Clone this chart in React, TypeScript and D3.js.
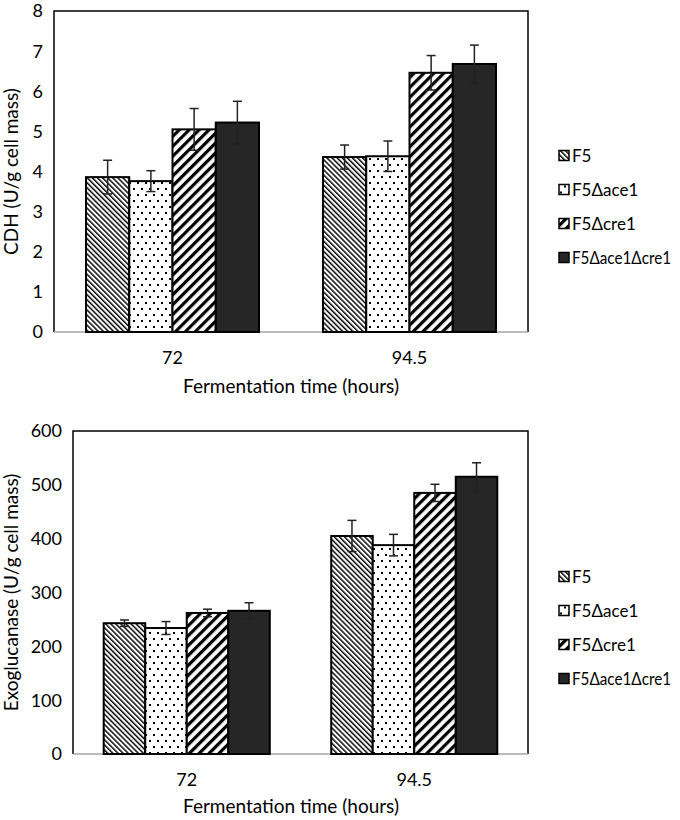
import React from 'react';
import * as d3 from 'd3';

const times = ['72', '94.5'];
const strains = ['F5', 'F5Δace1', 'F5Δcre1', 'F5Δace1Δcre1'];

// CDH (U/g cell mass), rows = strains, cols = times
const cdhMean = [
  [3.86, 4.36],
  [3.76, 4.38],
  [5.05, 6.46],
  [5.22, 6.68],
];
const cdhErr = [
  [0.42, 0.30],
  [0.26, 0.38],
  [0.52, 0.43],
  [0.53, 0.47],
];
const cdhTicks = [0, 1, 2, 3, 4, 5, 6, 7, 8];

// Exoglucanase (U/g cell mass)
const exoMean = [
  [243, 405],
  [234, 388],
  [262, 485],
  [266, 515],
];
const exoErr = [
  [6, 29],
  [12, 20],
  [7, 16],
  [15, 26],
];
const exoTicks = [0, 100, 200, 300, 400, 500, 600];

const fills = ['url(#pF5)', 'url(#pAce)', 'url(#pCre)', '#262626'];
const font = 'Lato, "Open Sans", sans-serif';

type PanelProps = {
  top: number;
  left: number;
  bottom: number;
  yMax: number;
  ticks: number[];
  mean: number[][];
  err: number[][];
  yTitle: string;
  titleY: number;
};

function Panel({ top, left, bottom, yMax, ticks, mean, err, yTitle, titleY }: PanelProps) {
  const right = 528;
  const x0 = d3.scaleBand().domain(times).range([left, right]).paddingInner(0).paddingOuter(0);
  const groupW = x0.bandwidth() * 0.73;
  const x1 = d3.scaleBand().domain(strains).range([0, groupW]);
  const y = d3.scaleLinear().domain([0, yMax]).range([bottom, top]);

  const legendY = d3.scaleLinear().domain([0, 3]).range([(top + bottom) / 2 - 16, (top + bottom) / 2 + 86]);

  return (
    <g>
      {/* frame */}
      <path d={`M${left},${bottom} V${top} H${right} V${bottom}`} fill="none" stroke="#000" strokeWidth={1.5} />
      <line x1={left} x2={right} y1={bottom} y2={bottom} stroke="#a6a6a6" strokeWidth={1.5} />

      {ticks.map(t => (
        <text key={t} x={left - 11} y={y(t)} dy="0.36em" textAnchor="end" fontSize={18} fontFamily={font} fill="#000">
          {t}
        </text>
      ))}

      {times.map((t, ti) => {
        const gx = (x0(t) as number) + (x0.bandwidth() - groupW) / 2;
        return (
          <g key={t}>
            {strains.map((s, si) => {
              const bx = gx + (x1(s) as number);
              const v = mean[si][ti];
              const e = err[si][ti];
              const cx = bx + x1.bandwidth() / 2;
              return (
                <g key={s}>
                  <rect x={bx} y={y(v)} width={x1.bandwidth()} height={y(0) - y(v)} fill={fills[si]} stroke="#000" strokeWidth={2} />
                  <line x1={cx} x2={cx} y1={y(v + e)} y2={y(v - e)} stroke="#222" strokeWidth={1.5} />
                  <line x1={cx - 4.5} x2={cx + 4.5} y1={y(v + e)} y2={y(v + e)} stroke="#222" strokeWidth={1.5} />
                  <line x1={cx - 4.5} x2={cx + 4.5} y1={y(v - e)} y2={y(v - e)} stroke="#222" strokeWidth={1.5} />
                </g>
              );
            })}
            <text x={(x0(t) as number) + x0.bandwidth() / 2} y={bottom + 26} dy="0.36em" textAnchor="middle" fontSize={18} fontFamily={font}>
              {t}
            </text>
          </g>
        );
      })}

      <text x={291} y={titleY} textAnchor="middle" fontSize={19} fontFamily={font} textLength={216} lengthAdjust="spacingAndGlyphs">
        Fermentation time (hours)
      </text>
      <text
        transform={`translate(18,${(top + bottom) / 2}) rotate(-90)`}
        textAnchor="middle"
        fontSize={19}
        fontFamily={font}
      >
        {yTitle}
      </text>

      {strains.map((s, si) => (
        <g key={s} transform={`translate(559,${legendY(si)})`}>
          <rect x={0} y={-5} width={10} height={10} fill={fills[si]} stroke="#000" strokeWidth={1.5} />
          <text x={13} y={0} dy="0.36em" fontSize={17} fontFamily={font} textLength={s.length > 8 ? 99 : undefined} lengthAdjust="spacingAndGlyphs">
            {s}
          </text>
        </g>
      ))}
    </g>
  );
}

export default function App() {
  return (
    <svg width={680} height={820} style={{ position: 'absolute', left: 0, top: 0, background: '#fff' }}>
      <defs>
        <pattern id="pF5" patternUnits="userSpaceOnUse" width={3.6} height={3.6} patternTransform="rotate(-45)">
          <rect width={3.6} height={3.6} fill="#fff" />
          <line x1={0.7} y1={0} x2={0.7} y2={3.6} stroke="#000" strokeWidth={1.5} />
        </pattern>
        <pattern id="pAce" patternUnits="userSpaceOnUse" width={8} height={12}>
          <rect width={8} height={12} fill="#fff" />
          <rect x={1} y={2} width={2} height={2} fill="#000" />
          <rect x={5} y={8} width={2} height={2} fill="#000" />
        </pattern>
        <pattern id="pCre" patternUnits="userSpaceOnUse" width={7} height={7} patternTransform="rotate(45)">
          <rect width={7} height={7} fill="#fff" />
          <line x1={1.6} y1={0} x2={1.6} y2={7} stroke="#000" strokeWidth={3.2} />
        </pattern>
      </defs>
      <Panel top={11} left={54} bottom={332} yMax={8} ticks={cdhTicks} mean={cdhMean} err={cdhErr} yTitle="CDH (U/g cell mass)" titleY={393} />
      <Panel top={431} left={73} bottom={754} yMax={600} ticks={exoTicks} mean={exoMean} err={exoErr} yTitle="Exoglucanase (U/g cell mass)" titleY={813} />
    </svg>
  );
}
